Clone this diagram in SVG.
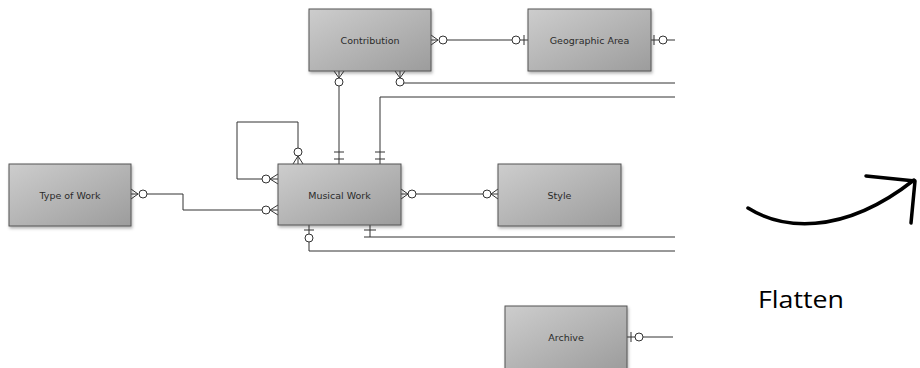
<svg xmlns="http://www.w3.org/2000/svg" width="920" height="368" viewBox="0 0 920 368">
<style>
.box{fill:url(#g);stroke:#555;stroke-width:1;filter:url(#sh)}
.lbl{font-family:"DejaVu Sans",Verdana,sans-serif;font-size:9.5px;fill:#2a2a2a;text-anchor:middle;dominant-baseline:central}
.ln{fill:none;stroke:#333;stroke-width:1}
.c{fill:#fff;stroke:#333;stroke-width:1}
</style>
<defs>
<linearGradient id="g" x1="0" y1="0" x2="1" y2="1">
<stop offset="0" stop-color="#cdcdcd"/>
<stop offset="1" stop-color="#9c9c9c"/>
</linearGradient>
<filter id="sh" x="-10%" y="-10%" width="130%" height="130%">
<feDropShadow dx="1" dy="2" stdDeviation="1.5" flood-color="#000" flood-opacity="0.3"/>
</filter>
</defs>
<g id="connectors">
<path class="ln" d="M447,40H512"/>
<path class="ln" d="M431,35L438,40L431,45M431,40H438"/>
<circle class="c" cx="443" cy="40" r="4"/>
<circle class="c" cx="516" cy="40" r="4"/>
<path class="ln" d="M520,40H528M524,35V45"/>
<path class="ln" d="M651,40H659M654,35V45M667,40H675"/>
<circle class="c" cx="663" cy="40" r="4"/>
<path class="ln" d="M334,71L339,78L344,71M339,71V78M339,86V164"/>
<circle class="c" cx="339" cy="82" r="4"/>
<path class="ln" d="M334,152H344M334,159H344"/>
<path class="ln" d="M395,71L400,78L405,71M400,71V78M404,83H675"/>
<circle class="c" cx="400" cy="82" r="4"/>
<path class="ln" d="M380,164V97H675M375,152H385M375,159H385"/>
<path class="ln" d="M298,148V122H237V179H262"/>
<circle class="c" cx="298" cy="152" r="4"/>
<path class="ln" d="M293,164L298,156L303,164M298,156V164"/>
<circle class="c" cx="266" cy="179" r="4"/>
<path class="ln" d="M278,174L270,179L278,184M270,179H278"/>
<path class="ln" d="M131,189L138,194L131,199M131,194H138"/>
<circle class="c" cx="143" cy="194" r="4"/>
<path class="ln" d="M147,194H183V210H262"/>
<circle class="c" cx="266" cy="210" r="4"/>
<path class="ln" d="M278,205L270,210L278,215M270,210H278"/>
<path class="ln" d="M401,189L408,194L401,199M401,194H408"/>
<circle class="c" cx="412" cy="194" r="4"/>
<path class="ln" d="M416,194H483"/>
<circle class="c" cx="487" cy="194" r="4"/>
<path class="ln" d="M498,189L491,194L498,199M491,194H498"/>
<path class="ln" d="M309,225V234M304,230H314M309,242V251H675"/>
<circle class="c" cx="309" cy="238" r="4"/>
<path class="ln" d="M370,225V237M364,230H376M364,237H675"/>
<path class="ln" d="M627,337H635M631,332V342M643,337H673"/>
<circle class="c" cx="639" cy="337" r="4"/>
</g>
<g id="contribution"><rect class="box" x="309" y="9" width="122" height="62"/><text class="lbl" x="370" y="40">Contribution</text></g>
<g id="geographic-area"><rect class="box" x="528" y="9" width="123" height="62"/><text class="lbl" x="589.500" y="40">Geographic Area</text></g>
<g id="type-of-work"><rect class="box" x="9" y="164" width="122" height="62"/><text class="lbl" x="70" y="195">Type of Work</text></g>
<g id="musical-work"><rect class="box" x="278" y="164" width="123" height="61"/><text class="lbl" x="339.500" y="195">Musical Work</text></g>
<g id="style"><rect class="box" x="498" y="164" width="123" height="62"/><text class="lbl" x="559.500" y="195">Style</text></g>
<g id="archive"><rect class="box" x="505" y="306" width="122" height="64"/><text class="lbl" x="566" y="337">Archive</text></g>
<g id="flatten">
<path d="M748,208C780,228 840,238 914,180" fill="none" stroke="#000" stroke-width="3.5" stroke-linecap="round"/>
<path d="M866,176L915,181L911,223" fill="none" stroke="#000" stroke-width="3.5" stroke-linecap="round" stroke-linejoin="round"/>
<text x="758" y="308" font-family="'Open Sans','Liberation Sans',sans-serif" font-size="23" fill="#000" textLength="86" lengthAdjust="spacingAndGlyphs">Flatten</text>
</g>
</svg>
